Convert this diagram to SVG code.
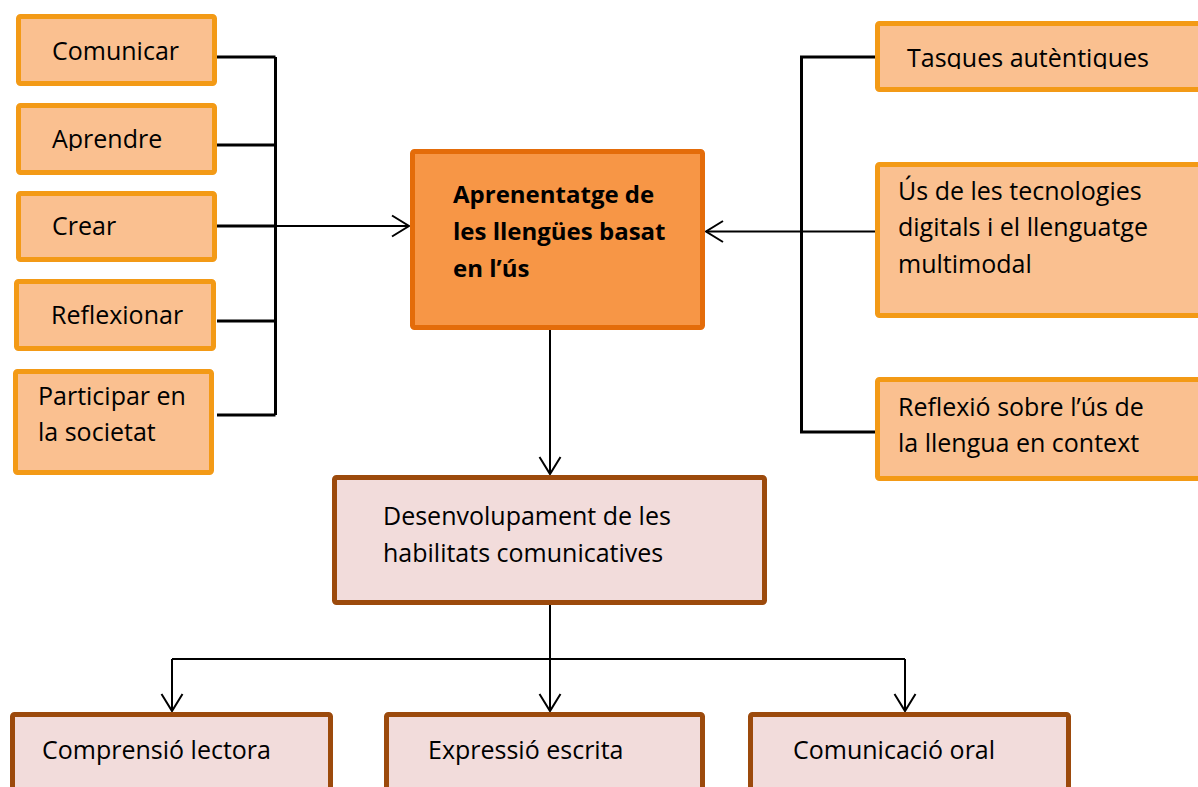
<svg xmlns="http://www.w3.org/2000/svg" width="1198" height="787" viewBox="0 0 1198 787">
<style>
.lt{fill:#FAC090;stroke:#F39A16;stroke-width:5}
.ct{fill:#F79646;stroke:#E46C0A;stroke-width:5}
.pk{fill:#F2DCDB;stroke:#9C4A0C;stroke-width:5}
text{font-family:"Open Sans","Noto Sans",sans-serif;font-size:25px;fill:#000}
.b{font-weight:bold;font-size:24px}
.br{stroke:#000;stroke-width:3;fill:none}
.ar{stroke:#000;stroke-width:2;fill:none}
</style>
<defs>
<marker id="arr" markerUnits="userSpaceOnUse" orient="auto" markerWidth="20" markerHeight="24" refX="0" refY="0" viewBox="-19 -12 20 24" overflow="visible">
<path d="M-17,-10.5 L0,0 L-17,10.5" fill="none" stroke="#000" stroke-width="2"/>
</marker>
<clipPath id="c1"><rect x="0" y="100" width="230" height="51"/></clipPath>
<clipPath id="c2"><rect x="870" y="15" width="328" height="54"/></clipPath>
</defs>
<g id="connectors">
<path class="br" d="M217,57H275.5M217,145H275.5M217,226H275.5M217,321H275.5M217,415H275.5M275.5,57V415"/>
<path class="ar" d="M275.5,226H409" marker-end="url(#arr)"/>
<path class="br" d="M875,57H801.5V432H875"/>
<path class="ar" d="M875,231.5H706" marker-end="url(#arr)"/>
<path class="ar" d="M550,330V474" marker-end="url(#arr)"/>
<path class="ar" d="M550,605V711" marker-end="url(#arr)"/>
<path class="ar" d="M172,659H905"/>
<path class="ar" d="M172,659V711" marker-end="url(#arr)"/>
<path class="ar" d="M905,659V711" marker-end="url(#arr)"/>
</g>
<g id="comunicar"><rect class="lt" x="18.5" y="16.5" width="196" height="67" rx="2"/><text x="52" y="60">Comunicar</text></g>
<g id="aprendre"><rect class="lt" x="18.5" y="105.5" width="196" height="67" rx="2"/><text x="52" y="148" clip-path="url(#c1)">Aprendre</text></g>
<g id="crear"><rect class="lt" x="18.5" y="193.5" width="196" height="66" rx="2"/><text x="52" y="235">Crear</text></g>
<g id="reflexionar"><rect class="lt" x="16.5" y="281.5" width="197" height="67" rx="2"/><text x="51" y="324">Reflexionar</text></g>
<g id="participar"><rect class="lt" x="15.5" y="371.5" width="196" height="101" rx="2"/><text x="38" y="405">Participar en</text><text x="38" y="441">la societat</text></g>
<g id="central"><rect class="ct" x="412.5" y="151.5" width="290" height="176" rx="2"/><text class="b" x="453" y="203">Aprenentatge de</text><text class="b" x="453" y="240">les llengües basat</text><text class="b" x="453" y="277">en l’ús</text></g>
<g id="tasques"><rect class="lt" x="877.5" y="23.5" width="330" height="66" rx="2"/><text x="907" y="67" clip-path="url(#c2)">Tasques autèntiques</text></g>
<g id="tecnologies"><rect class="lt" x="877.5" y="164.5" width="330" height="151" rx="2"/><text x="898" y="200">Ús de les tecnologies</text><text x="898" y="236">digitals i el llenguatge</text><text x="898" y="273">multimodal</text></g>
<g id="reflexio"><rect class="lt" x="877.5" y="379.5" width="330" height="99" rx="2"/><text x="898" y="416">Reflexió sobre l’ús de</text><text x="898" y="452">la llengua en context</text></g>
<g id="desenvolupament"><rect class="pk" x="334.5" y="477.5" width="430" height="125" rx="2"/><text x="383" y="525">Desenvolupament de les</text><text x="383" y="562">habilitats comunicatives</text></g>
<g id="comprensio"><rect class="pk" x="12.5" y="714.5" width="318" height="100" rx="2"/><text x="42" y="759">Comprensió lectora</text></g>
<g id="expressio"><rect class="pk" x="386.5" y="714.5" width="316" height="100" rx="2"/><text x="428" y="759">Expressió escrita</text></g>
<g id="comunicacio"><rect class="pk" x="750.5" y="714.5" width="318" height="100" rx="2"/><text x="793" y="759">Comunicació oral</text></g>
</svg>
